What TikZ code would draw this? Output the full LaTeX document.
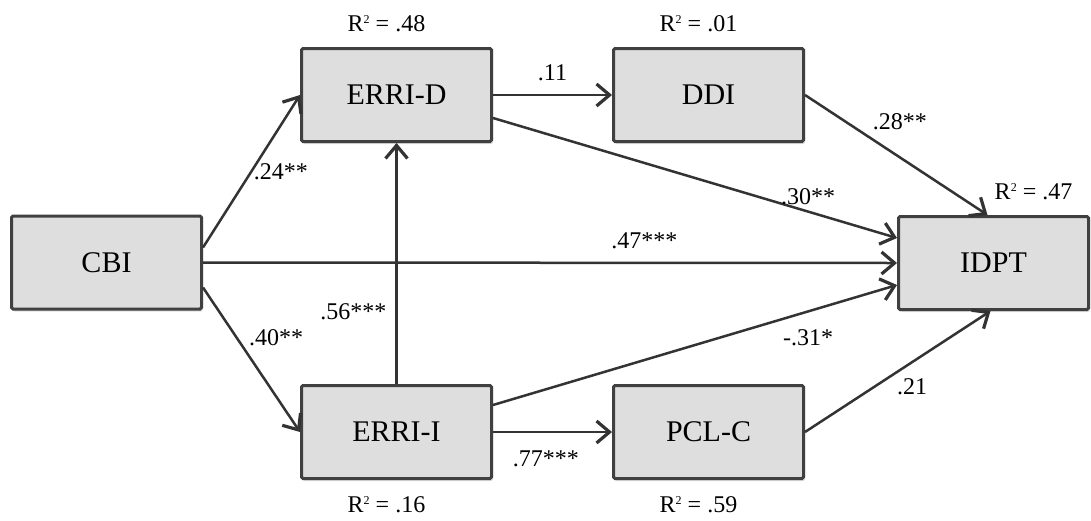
\documentclass[tikz,border=0pt]{standalone}
\usepackage{fontspec}
\setmainfont{Liberation Serif}
\usetikzlibrary{arrows.meta,shadows}

\newcommand{\rsq}[1]{R\raisebox{8pt}{\fontsize{12}{12}\selectfont 2} = #1}

\begin{document}
\begin{tikzpicture}[x=1pt,y=1pt]
\tikzstyle{every node}+=[inner sep=0pt]
\tikzstyle{var}=[draw=black!75, line width=3pt, fill=black!13, rounded corners=1.5pt, minimum width=190pt, minimum height=93pt, font=\fontsize{30}{36}\selectfont, drop shadow={shadow xshift=1.5pt, shadow yshift=-2.5pt, opacity=0.25}]
\tikzstyle{link}=[draw=black!80, line width=2.5pt, -{Straight Barb[length=13pt,width=22pt,line width=3.2pt]}]
\tikzstyle{coef}=[font=\fontsize{24}{28}\selectfont]
\useasboundingbox (0,0) rectangle (1091,-520);
\node [var] (cbi) at (106.5,-262.5) {CBI};
\node [var] (errid) at (396.5,-95) {ERRI-D};
\node [var] (ddi) at (708.5,-95) {DDI};
\node [var] (idpt) at (993.5,-263) {IDPT};
\node [var] (errii) at (396.5,-432) {ERRI-I};
\node [var] (pclc) at (708.5,-432) {PCL-C};
\node [coef] (r2errid) at ([xshift=-10pt,yshift=23pt]errid.north) {\rsq{.48}};
\node [coef] (r2ddi) at ([xshift=-10pt,yshift=23pt]ddi.north) {\rsq{.01}};
\node [coef] (r2idpt) at ([xshift=40pt,yshift=23pt]idpt.north) {\rsq{.47}};
\node [coef] (r2errii) at ([xshift=-10pt,yshift=-25pt]errii.south) {\rsq{.16}};
\node [coef] (r2pclc) at ([xshift=-10pt,yshift=-25pt]pclc.south) {\rsq{.59}};
\draw [link] ([yshift=15pt]cbi.east) -- (errid.west) node [coef, pos=0.5, anchor=west, xshift=1pt] {.24**};
\draw [link] ([yshift=-25pt]cbi.east) -- (errii.west) node [coef, pos=0.35, anchor=west, xshift=11pt] {.40**};
\draw [link] (errii.north) -- (errid.south) node [coef, pos=0.3, anchor=east, xshift=-9pt] {.56***};
\draw [link] (errid.east) -- (ddi.west) node [coef, midway, above=13pt] {.11};
\draw [link] (errii.east) -- (pclc.west) node [coef, pos=0.445, below=18pt] {.77***};
\draw [link] ([yshift=-23pt]errid.east) -- ([yshift=25pt]idpt.west) node [coef, pos=0.78, anchor=south, yshift=6pt] {.30**};
\draw [link] (ddi.east) -- ([xshift=-6pt]idpt.north) node [coef, pos=0.36, anchor=south west, xshift=1pt, yshift=7pt] {.28**};
\draw [link] (cbi.east) -- (idpt.west) node [coef, pos=0.636, above=13pt] {.47***};
\draw [link] ([yshift=27pt]errii.east) -- ([yshift=-22pt]idpt.west) node [coef, pos=0.78, anchor=north, yshift=-17pt] {-.31*};
\draw [link] (pclc.east) -- ([xshift=-3pt]idpt.south) node [coef, pos=0.49, anchor=north west, yshift=-5pt] {.21};
\end{tikzpicture}
\end{document}
